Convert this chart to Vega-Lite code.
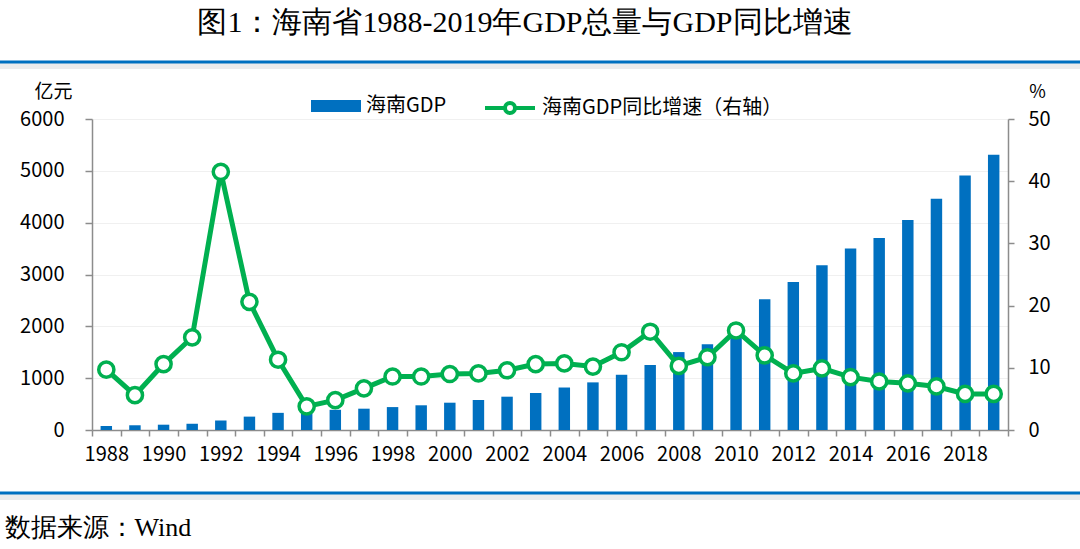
{
  "$schema": "https://vega.github.io/schema/vega-lite/v6.json",
  "width": 916,
  "height": 311,
  "autosize": {"type": "none"},
  "padding": {"left": 92, "top": 119, "right": 72, "bottom": 119},
  "background": "white",
  "config": {"view": {"stroke": null}, "font": "Noto Sans CJK SC"},
  "title": {
    "text": "图1：海南省1988-2019年GDP总量与GDP同比增速",
    "font": "Liberation Serif",
    "fontSize": 30,
    "fontWeight": "normal",
    "color": "#000000",
    "anchor": "middle",
    "dx": -25,
    "offset": 23
  },
  "data": {
    "values": [
      {"year": 1988, "gdp": 77.0, "growth": 9.7},
      {"year": 1989, "gdp": 91.3, "growth": 5.6},
      {"year": 1990, "gdp": 102.4, "growth": 10.6},
      {"year": 1991, "gdp": 120.5, "growth": 14.9},
      {"year": 1992, "gdp": 181.7, "growth": 41.5},
      {"year": 1993, "gdp": 258.1, "growth": 20.6},
      {"year": 1994, "gdp": 331.0, "growth": 11.3},
      {"year": 1995, "gdp": 363.3, "growth": 3.8},
      {"year": 1996, "gdp": 389.7, "growth": 4.8},
      {"year": 1997, "gdp": 411.2, "growth": 6.7},
      {"year": 1998, "gdp": 442.1, "growth": 8.6},
      {"year": 1999, "gdp": 476.7, "growth": 8.6},
      {"year": 2000, "gdp": 526.8, "growth": 9.0},
      {"year": 2001, "gdp": 579.2, "growth": 9.1},
      {"year": 2002, "gdp": 642.7, "growth": 9.6},
      {"year": 2003, "gdp": 713.9, "growth": 10.6},
      {"year": 2004, "gdp": 819.7, "growth": 10.7},
      {"year": 2005, "gdp": 918.8, "growth": 10.2},
      {"year": 2006, "gdp": 1065.7, "growth": 12.5},
      {"year": 2007, "gdp": 1254.2, "growth": 15.8},
      {"year": 2008, "gdp": 1503.1, "growth": 10.3},
      {"year": 2009, "gdp": 1654.2, "growth": 11.7},
      {"year": 2010, "gdp": 2064.5, "growth": 16.0},
      {"year": 2011, "gdp": 2522.7, "growth": 12.0},
      {"year": 2012, "gdp": 2855.5, "growth": 9.1},
      {"year": 2013, "gdp": 3177.6, "growth": 9.9},
      {"year": 2014, "gdp": 3500.7, "growth": 8.5},
      {"year": 2015, "gdp": 3702.8, "growth": 7.8},
      {"year": 2016, "gdp": 4053.2, "growth": 7.5},
      {"year": 2017, "gdp": 4462.5, "growth": 7.0},
      {"year": 2018, "gdp": 4910.7, "growth": 5.8},
      {"year": 2019, "gdp": 5308.9, "growth": 5.8}
    ]
  },
  "layer": [
    {
      "data": {"values": [{}]},
      "mark": {"type": "rule", "color": "#ececec", "strokeWidth": 6},
      "encoding": {"x": {"value": -92}, "x2": {"value": 988}, "y": {"value": -53}}
    },
    {
      "data": {"values": [{}]},
      "mark": {"type": "rule", "color": "#ececec", "strokeWidth": 6},
      "encoding": {"x": {"value": -92}, "x2": {"value": 988}, "y": {"value": 378}}
    },
    {
      "mark": {"type": "bar", "width": {"band": 0.4}},
      "encoding": {
        "x": {
          "field": "year",
          "type": "ordinal",
          "scale": {"paddingInner": 0, "paddingOuter": 0},
          "axis": {
            "labelExpr": "datum.value % 2 == 0 ? datum.label : ''",
            "labelAngle": 0,
            "labelOverlap": false,
            "tickBand": "extent",
            "tickSize": 6,
            "tickColor": "#8c8c8c",
            "tickWidth": 1.5,
            "domainColor": "#8c8c8c",
            "domainWidth": 1.5,
            "labelFontSize": 20,
            "labelColor": "#000000",
            "labelPadding": 8,
            "title": "数据来源：Wind",
            "titleFont": "Liberation Serif",
            "titleFontSize": 26,
            "titleFontWeight": "normal",
            "titleColor": "#000000",
            "titleAlign": "left",
            "titleBaseline": "middle",
            "titleAngle": 0,
            "titleX": -88,
            "titleY": 97
          }
        },
        "y": {
          "field": "gdp",
          "type": "quantitative",
          "scale": {"domain": [0, 6000]},
          "axis": {
            "values": [0, 1000, 2000, 3000, 4000, 5000, 6000],
            "format": "d",
            "grid": true,
            "gridColor": "#f0f0f0",
            "gridWidth": 1,
            "domainColor": "#8c8c8c",
            "domainWidth": 1.5,
            "tickColor": "#8c8c8c",
            "tickWidth": 1.5,
            "tickSize": 7,
            "labelFontSize": 20,
            "labelColor": "#000000",
            "labelPadding": 21,
            "title": "亿元",
            "titleAngle": 0,
            "titleFontSize": 19,
            "titleFontWeight": "normal",
            "titleColor": "#000000",
            "titleAlign": "center",
            "titleBaseline": "middle",
            "titleX": -39,
            "titleY": -28
          }
        },
        "fill": {
          "datum": "海南GDP",
          "scale": {"range": ["#0070C0"]},
          "legend": {
            "orient": "none",
            "legendX": 219,
            "legendY": -38,
            "title": null,
            "padding": 0,
            "symbolType": "M-1,-0.24H1V0.24H-1Z",
            "symbolSize": 2500,
            "symbolStrokeWidth": 0,
            "labelFontSize": 20,
            "labelColor": "#000000",
            "labelOffset": 5,
            "labelLimit": 0
          }
        }
      }
    },
    {
      "encoding": {
        "x": {"field": "year", "type": "ordinal"},
        "y": {
          "field": "growth",
          "type": "quantitative",
          "scale": {"domain": [0, 50]},
          "axis": {
            "orient": "right",
            "values": [0, 10, 20, 30, 40, 50],
            "grid": false,
            "domainColor": "#8c8c8c",
            "domainWidth": 1.5,
            "tickColor": "#8c8c8c",
            "tickWidth": 1.5,
            "tickSize": 6,
            "labelFontSize": 20,
            "labelColor": "#000000",
            "labelPadding": 14,
            "title": "%",
            "titleAngle": 0,
            "titleFontSize": 18,
            "titleFontWeight": "normal",
            "titleColor": "#000000",
            "titleAlign": "center",
            "titleBaseline": "middle",
            "titleX": 29,
            "titleY": -27
          }
        }
      },
      "layer": [
        {
          "mark": {"type": "line", "strokeWidth": 5},
          "encoding": {
            "stroke": {
              "datum": "海南GDP同比增速（右轴）",
              "scale": {"range": ["#00B050"]},
              "legend": {
                "orient": "none",
                "legendX": 391,
                "legendY": -38,
                "title": null,
                "padding": 0,
                "symbolType": "M-1,0H-0.2M0.2,0H1M0.2,0A0.2,0.2 0 1,1 -0.2,0A0.2,0.2 0 1,1 0.2,0",
                "symbolSize": 2500,
                "symbolStrokeWidth": 4,
                "symbolFillColor": "#ffffff",
                "labelFontSize": 20,
                "labelColor": "#000000",
                "labelOffset": 5,
                "labelLimit": 0
              }
            }
          }
        },
        {
          "mark": {"type": "point", "shape": "circle", "filled": true, "fill": "#ffffff", "stroke": "#00B050", "strokeWidth": 3.5, "size": 230, "opacity": 1}
        }
      ]
    },
    {
      "data": {"values": [{}]},
      "mark": {"type": "rule", "color": "#0070C0", "strokeWidth": 3},
      "encoding": {"x": {"value": -92}, "x2": {"value": 988}, "y": {"value": -57}}
    },
    {
      "data": {"values": [{}]},
      "mark": {"type": "rule", "color": "#0070C0", "strokeWidth": 3},
      "encoding": {"x": {"value": -92}, "x2": {"value": 988}, "y": {"value": 374}}
    }
  ],
  "resolve": {"scale": {"y": "independent", "fill": "independent", "stroke": "independent"}}
}
